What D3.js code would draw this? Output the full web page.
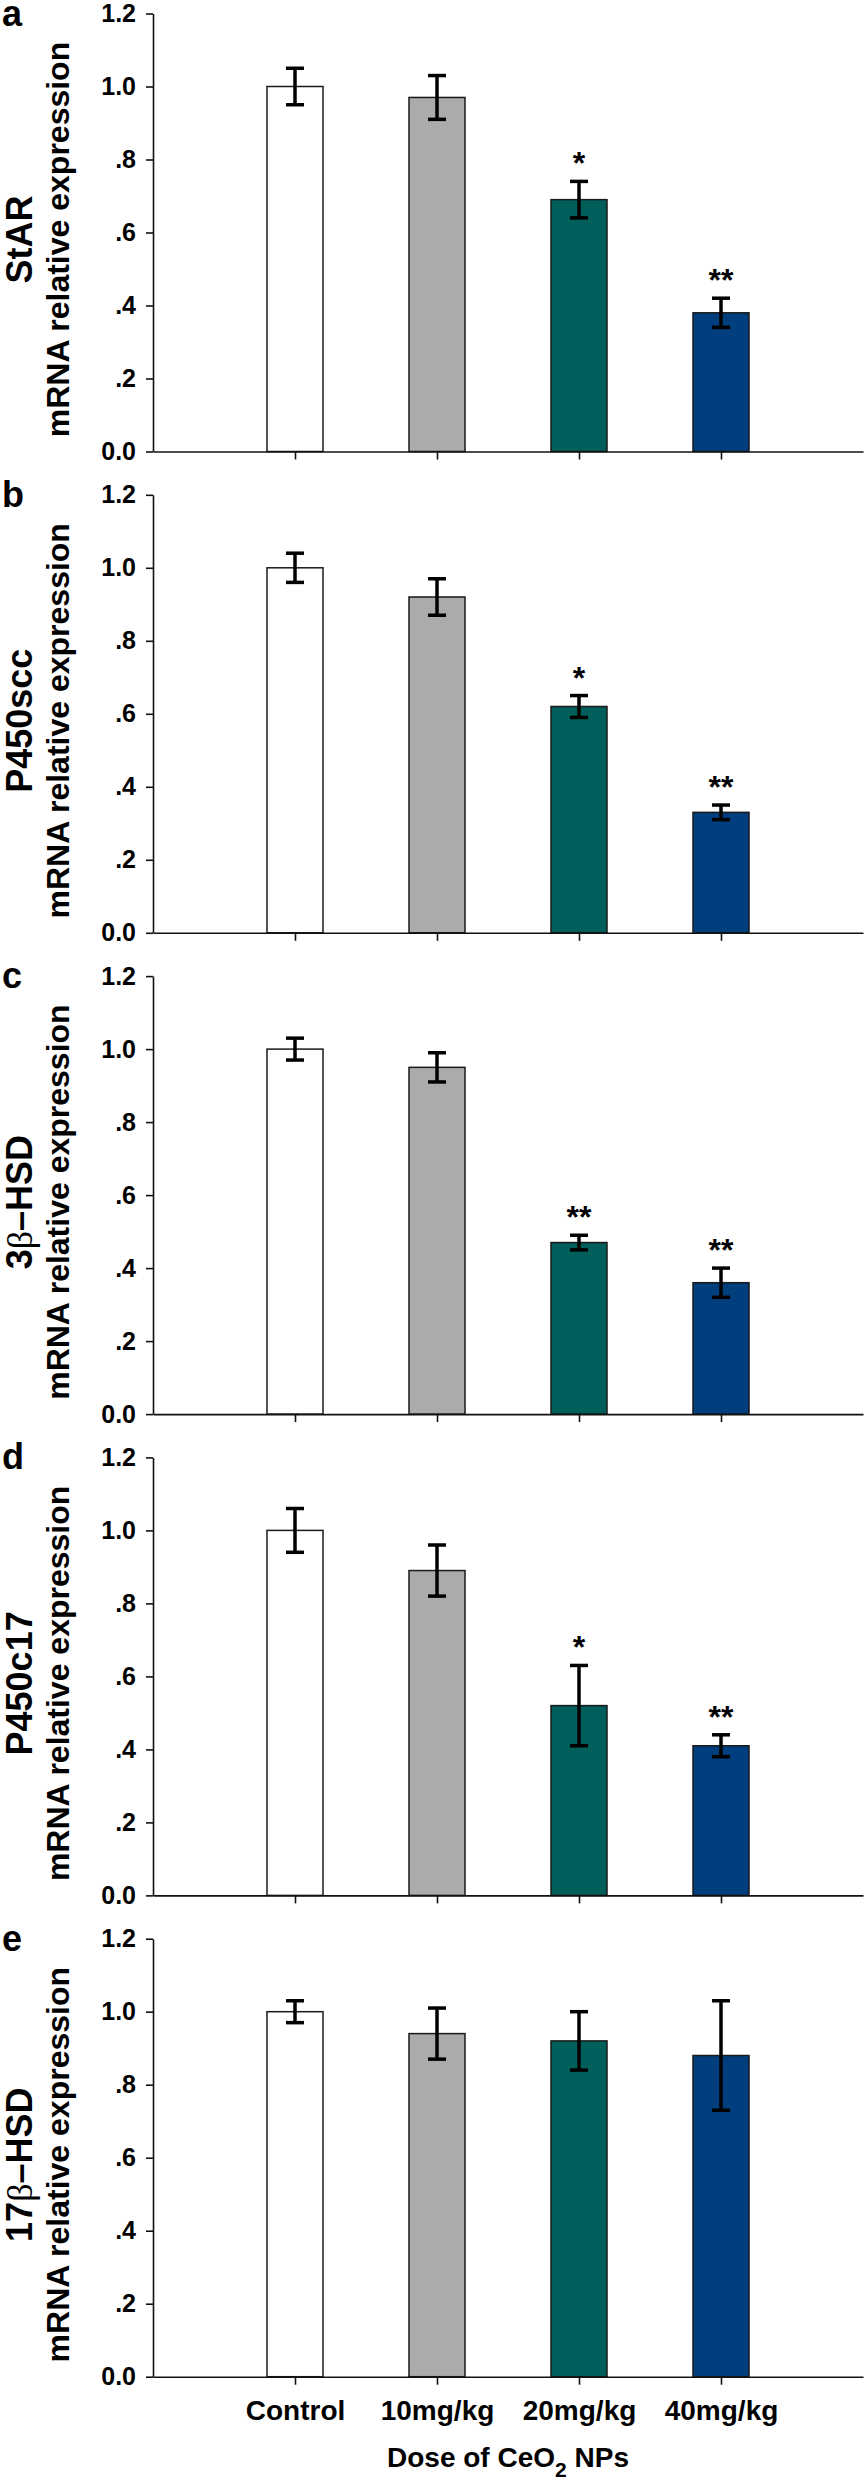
<!DOCTYPE html>
<html lang="en">
<head>
    <meta charset="UTF-8">
    <title>mRNA relative expression</title>
    <script src="https://d3js.org/d3.v7.min.js"></script>
    <style>
        body { margin: 0; background: #fff; }
        svg text { font-family: "Liberation Sans", Arial, Helvetica, sans-serif; font-weight: bold; fill: #000; }
        .axis path, .axis line { stroke: #111; stroke-width: 1.6; }
        .axis text { font-size: 25px; }
        .xaxis text { font-size: 28px; }
    </style>
</head>
<body>
    <svg width="868" height="2481"></svg>
    <script>
        // data
        const categories = ["Control", "10mg/kg", "20mg/kg", "40mg/kg"];
        const panelLetters = ["a", "b", "c", "d", "e"];
        const genes = ["StAR", "P450scc", "3β–HSD", "P450c17", "17β–HSD"];
        const yTicks = [0, 0.2, 0.4, 0.6, 0.8, 1.0, 1.2];
        const yTickLabels = ["0.0", ".2", ".4", ".6", ".8", "1.0", "1.2"];

        const starMean = [1.00, 0.97, 0.69, 0.38];
        const starErr = [0.05, 0.06, 0.05, 0.04];
        const starSig = ["", "", "*", "**"];

        const sccMean = [1.00, 0.92, 0.62, 0.33];
        const sccErr = [0.04, 0.05, 0.03, 0.02];
        const sccSig = ["", "", "*", "**"];

        const hsd3Mean = [1.00, 0.95, 0.47, 0.36];
        const hsd3Err = [0.03, 0.04, 0.02, 0.04];
        const hsd3Sig = ["", "", "**", "**"];

        const c17Mean = [1.00, 0.89, 0.52, 0.41];
        const c17Err = [0.06, 0.07, 0.11, 0.03];
        const c17Sig = ["", "", "*", "**"];

        const hsd17Mean = [1.00, 0.94, 0.92, 0.88];
        const hsd17Err = [0.03, 0.07, 0.08, 0.15];
        const hsd17Sig = ["", "", "", ""];

        const barColors = ["#ffffff", "#ababab", "#005f5a", "#003e7e"];

        const means = [starMean, sccMean, hsd3Mean, c17Mean, hsd17Mean];
        const errs = [starErr, sccErr, hsd3Err, c17Err, hsd17Err];
        const sigs = [starSig, sccSig, hsd3Sig, c17Sig, hsd17Sig];

        // layout
        const left = 153, right = 863;
        const firstTop = 13.5, panelStep = 481.3, plotH = 438;
        const barW = 56, capW = 18;

        const svg = d3.select("svg");

        const x = d3.scalePoint()
            .domain(categories)
            .range([left, right])
            .padding(1);

        genes.forEach((gene, p) => {
            const top = firstTop + p * panelStep;
            const y = d3.scaleLinear().domain([0, 1.2]).range([top + plotH, top]);
            const rows = categories.map((c, i) => ({
                cat: c, mean: means[p][i], err: errs[p][i], sig: sigs[p][i], color: barColors[i]
            }));
            const g = svg.append("g");

            // bars
            g.selectAll(".bar")
                .data(rows)
                .enter()
                .append("rect")
                .attr("class", "bar")
                .attr("x", d => x(d.cat) - barW / 2)
                .attr("y", d => y(d.mean))
                .attr("width", barW)
                .attr("height", d => y(0) - y(d.mean))
                .attr("fill", d => d.color)
                .attr("stroke", "#1a1a1a")
                .attr("stroke-width", 1.5);

            // error bars
            const eb = g.selectAll(".err")
                .data(rows)
                .enter()
                .append("g")
                .attr("class", "err")
                .attr("stroke", "#000")
                .attr("stroke-width", 3.5);
            eb.append("line")
                .attr("x1", d => x(d.cat)).attr("x2", d => x(d.cat))
                .attr("y1", d => y(d.mean - d.err)).attr("y2", d => y(d.mean + d.err));
            eb.append("line")
                .attr("x1", d => x(d.cat) - capW / 2).attr("x2", d => x(d.cat) + capW / 2)
                .attr("y1", d => y(d.mean + d.err)).attr("y2", d => y(d.mean + d.err));
            eb.append("line")
                .attr("x1", d => x(d.cat) - capW / 2).attr("x2", d => x(d.cat) + capW / 2)
                .attr("y1", d => y(d.mean - d.err)).attr("y2", d => y(d.mean - d.err));

            // significance marks
            g.selectAll(".sig")
                .data(rows.filter(d => d.sig))
                .enter()
                .append("text")
                .attr("x", d => x(d.cat))
                .attr("y", d => y(d.mean + d.err) - 7)
                .attr("text-anchor", "middle")
                .style("font-size", "32px")
                .text(d => d.sig);

            // axes
            g.append("g")
                .attr("class", "axis")
                .attr("transform", `translate(${left},0)`)
                .call(d3.axisLeft(y).tickValues(yTicks).tickSize(7).tickSizeOuter(0).tickPadding(10)
                    .tickFormat((d, i) => yTickLabels[i]))
                .selectAll("text").attr("fill", "#000");

            const last = p === genes.length - 1;
            g.append("g")
                .attr("class", "axis xaxis")
                .attr("transform", `translate(0,${y(0)})`)
                .call(d3.axisBottom(x).tickSize(8).tickSizeOuter(0).tickPadding(15)
                    .tickFormat(d => last ? d : ""))
                .selectAll("text").attr("fill", "#000");

            // panel letter
            g.append("text")
                .attr("x", 2)
                .attr("y", top + 12)
                .style("font-size", "36px")
                .text(panelLetters[p]);

            // y labels
            const cy = top + 226;
            const geneLabel = g.append("text")
                .attr("transform", `translate(32,${cy}) rotate(-90)`)
                .attr("text-anchor", "middle")
                .style("font-size", "36px");
            const parts = gene.split("β");
            geneLabel.append("tspan").text(parts[0]);
            if (parts.length > 1) {
                geneLabel.append("tspan")
                    .style("font-family", "'Liberation Serif', 'DejaVu Serif', serif")
                    .style("font-weight", "normal")
                    .text("β");
                geneLabel.append("tspan").text(parts[1]);
            }

            g.append("text")
                .attr("transform", `translate(69,${cy}) rotate(-90)`)
                .attr("text-anchor", "middle")
                .style("font-size", "32px")
                .text("mRNA relative expression");

            if (last) {
                const t = g.append("text")
                    .attr("x", (left + right) / 2)
                    .attr("y", y(0) + 90)
                    .attr("text-anchor", "middle")
                    .style("font-size", "28px");
                t.append("tspan").text("Dose of CeO");
                t.append("tspan").attr("dy", 10).style("font-size", "21px").text("2");
                t.append("tspan").attr("dy", -10).text(" NPs");
            }
        });
    </script>
</body>
</html>
